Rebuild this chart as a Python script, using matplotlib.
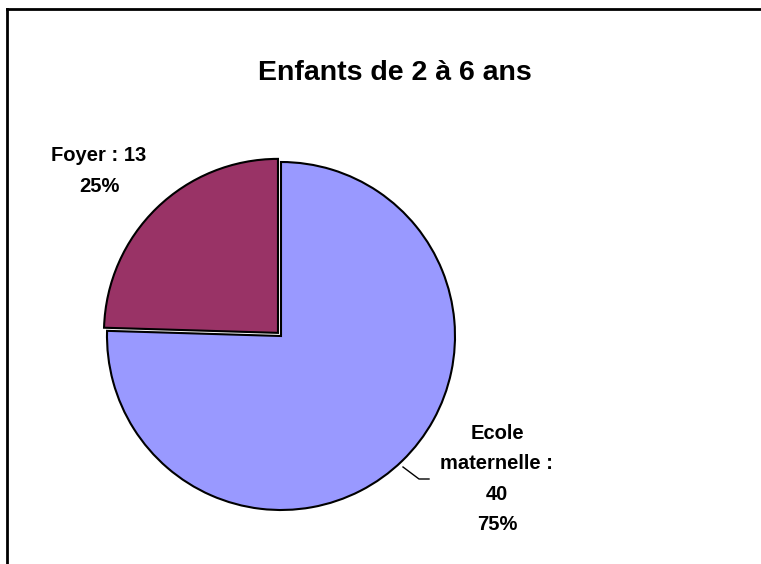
import matplotlib.pyplot as plt
from matplotlib.lines import Line2D

# data
categories = ['Ecole\nmaternelle :', 'Foyer :']
counts = [40, 13]
colors = ['#9999FF', '#993366']

W, H = 761, 564
fig = plt.figure(figsize=(W / 100, H / 100), dpi=100)
plt.rcParams['font.family'] = ['Liberation Sans', 'DejaVu Sans']

# pie centre and radius in pixels
cx, cy, r = 281, H - 336, 174
ax = fig.add_axes([(cx - r) / W, (cy - r) / H, 2 * r / W, 2 * r / H])

wedges, _ = ax.pie(counts, colors=colors, startangle=90, counterclock=False,
                   explode=[0, 0.025],
                   wedgeprops=dict(edgecolor='black', linewidth=1.5))
for w in wedges:
    w.set_clip_on(False)
ax.set_xlim(-1, 1)
ax.set_ylim(-1, 1)
ax.axis('off')

total = sum(counts)
pct = [round(100 * c / total) for c in counts]

def px(x, y):
    return x / W, 1 - y / H

# labels
x, y = px(497, 479)
fig.text(x, y, '%s\n%d\n%d%%' % (categories[0], counts[0], pct[0]),
         ha='center', va='center', fontsize=14.5, fontweight='bold',
         linespacing=1.76)
x, y = px(99, 171)
fig.text(x, y, '%s %d\n%d%%' % (categories[1], counts[1], pct[1]),
         ha='center', va='center', fontsize=14.5, fontweight='bold',
         linespacing=1.85)

# leader line for the Ecole label
lx = [403 / W, 419 / W, 429 / W]
ly = [1 - 467 / H, 1 - 479 / H, 1 - 479 / H]
fig.add_artist(Line2D(lx, ly, color='black', linewidth=1))

# title
x, y = px(395, 73)
fig.text(x, y, 'Enfants de 2 à 6 ans', ha='center', va='center',
         fontsize=20.5, fontweight='bold')

# frame (only top and left edges fall inside the picture)
fig.add_artist(Line2D([7 / W, 1], [1 - 9 / H, 1 - 9 / H], color='black', linewidth=2))
fig.add_artist(Line2D([7 / W, 7 / W], [0, 1 - 9 / H], color='black', linewidth=2))

fig.savefig('out.png', dpi=100)
